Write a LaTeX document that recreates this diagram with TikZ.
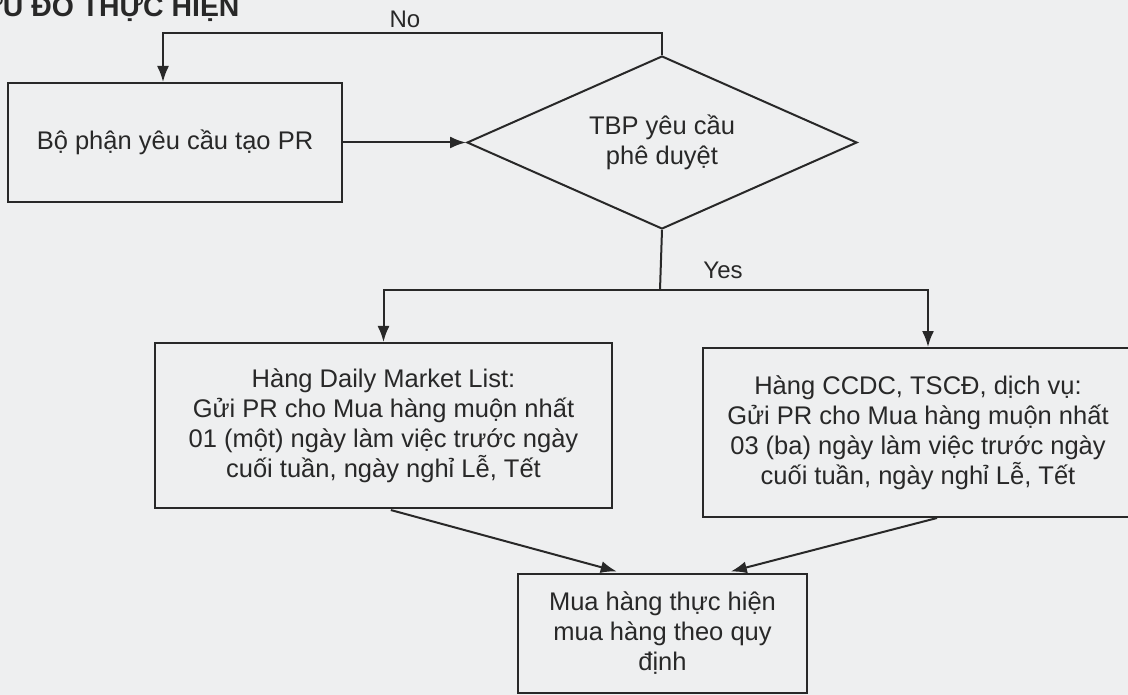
\documentclass[tikz,border=0pt]{standalone}
\usepackage{fontspec}
\setmainfont{Liberation Sans}
\usetikzlibrary{positioning,shapes.geometric,arrows.meta}
\definecolor{paper}{RGB}{238,239,240}
\definecolor{ink}{RGB}{40,40,40}
\tikzset{flowbox/.style={draw=ink,line width=2pt,text=ink,font=\fontsize{25.5}{30}\selectfont,align=center,inner sep=0pt},
decision/.style={diamond,draw=ink,line width=2pt,text=ink,font=\fontsize{25.5}{30}\selectfont,align=center,aspect=2.25,inner sep=1pt,minimum width=390pt,minimum height=173pt},
flowline/.style={draw=ink,line width=2pt},
flowarrow/.style={flowline,-{Latex[length=16pt,width=12pt]}},
flowlabel/.style={text=ink,font=\fontsize{24}{28}\selectfont}}

\begin{document}
\begin{tikzpicture}[x=1pt,y=-1pt]
\useasboundingbox (0,0) rectangle (1128,695);
\fill[paper] (0,0) rectangle (1128,695);
\node[anchor=base east,text=ink,font=\fontsize{28.4}{32}\selectfont\bfseries] (title) at (243,17) {LƯU ĐỒ THỰC HIỆN};
\node[flowbox,minimum width=334pt,minimum height=119pt] (request) at (175,142.5) {Bộ phận yêu cầu tạo PR};
\node[decision] (approve) [right=123pt of request] {TBP yêu cầu\\phê duyệt};
\node[flowbox,minimum width=457pt,minimum height=165pt] (daily) at (383.5,425.5) {Hàng Daily Market List:\\Gửi PR cho Mua hàng muộn nhất\\01 (một) ngày làm việc trước ngày\\cuối tuần, ngày nghỉ Lễ, Tết};
\node[flowbox,minimum width=430pt,minimum height=169pt] (tools) at (918,432.5) {Hàng CCDC, TSCĐ, dịch vụ:\\Gửi PR cho Mua hàng muộn nhất\\03 (ba) ngày làm việc trước ngày\\cuối tuần, ngày nghỉ Lễ, Tết};
\node[flowbox,minimum width=289pt,minimum height=119pt] (purchase) at (662.5,633.5) {Mua hàng thực hiện\\mua hàng theo quy\\định};
\node[flowlabel] (nolabel) at (405,19) {No};
\node[flowlabel] (yeslabel) at (723,270) {Yes};
\coordinate (noturn) at (163,33);
\coordinate (yessplit) at (660,290);
\draw[flowarrow] (request) -- (approve);
\draw[flowarrow] (approve.north) |- (noturn) -- (noturn |- request.north);
\draw[flowline] (approve.south) -- (yessplit);
\draw[flowarrow] (yessplit) -| (daily.north);
\draw[flowarrow] (yessplit) -| ([xshift=10pt]tools.north);
\draw[flowarrow,shorten <=4pt,shorten >=6pt] ([xshift=3.5pt]daily.south) -- ([xshift=-40pt]purchase.north);
\draw[flowarrow,shorten >=6pt] ([xshift=19pt]tools.south) -- ([xshift=62.5pt]purchase.north);
\end{tikzpicture}
\end{document}
